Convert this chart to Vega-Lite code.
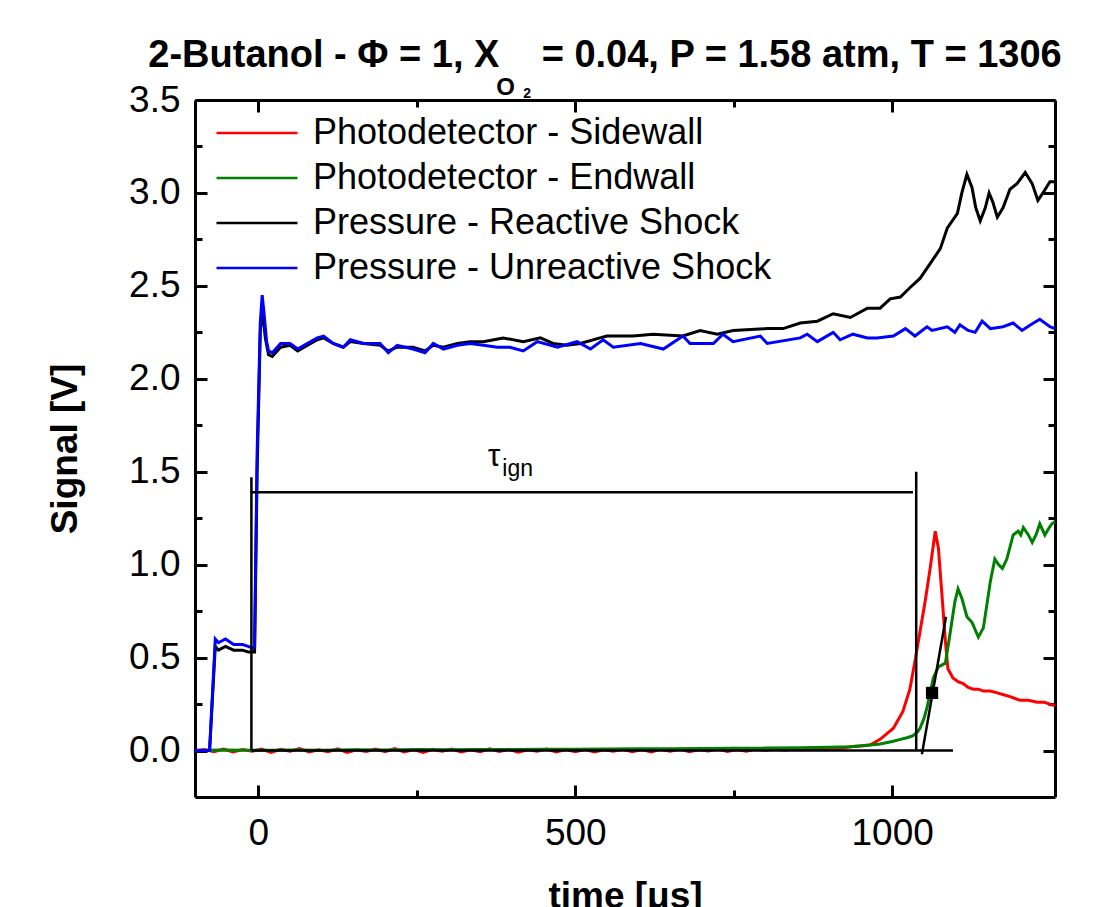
{
  "$schema": "https://vega.github.io/schema/vega-lite/v6.json",
  "width": 860,
  "height": 697,
  "autosize": {"type": "none"},
  "padding": {"left": 195, "top": 100, "right": 53, "bottom": 110},
  "background": "white",
  "title": {
    "text": "2-Butanol - Φ = 1, X\u00a0\u00a0\u00a0 = 0.04, P = 1.58 atm, T = 1306",
    "font": "Liberation Sans",
    "fontWeight": "bold",
    "fontSize": 38,
    "color": "black",
    "anchor": "middle",
    "frame": "group",
    "dx": -20,
    "dy": 37,
    "baseline": "alphabetic",
    "offset": 8
  },
  "config": {
    "font": "Liberation Sans",
    "view": {"stroke": null},
    "axis": {
      "domainColor": "black",
      "domainWidth": 3,
      "tickColor": "black",
      "tickWidth": 3,
      "labelFont": "Liberation Sans",
      "labelFontSize": 37,
      "labelColor": "black",
      "titleFont": "Liberation Sans",
      "titleFontSize": 37,
      "titleFontWeight": "bold",
      "titleColor": "black",
      "grid": false,
      "labelFlush": false,
      "labelOverlap": false
    }
  },
  "datasets": {
    "signals": [
      {"s": "Photodetector - Sidewall", "t": -100, "v": 0.0},
      {"s": "Photodetector - Sidewall", "t": -85, "v": 0.006},
      {"s": "Photodetector - Sidewall", "t": -70, "v": -0.006},
      {"s": "Photodetector - Sidewall", "t": -55, "v": 0.008},
      {"s": "Photodetector - Sidewall", "t": -40, "v": -0.008},
      {"s": "Photodetector - Sidewall", "t": -25, "v": 0.005},
      {"s": "Photodetector - Sidewall", "t": -10, "v": -0.004},
      {"s": "Photodetector - Sidewall", "t": 5, "v": 0.008},
      {"s": "Photodetector - Sidewall", "t": 20, "v": -0.01},
      {"s": "Photodetector - Sidewall", "t": 35, "v": 0.006},
      {"s": "Photodetector - Sidewall", "t": 50, "v": -0.004},
      {"s": "Photodetector - Sidewall", "t": 65, "v": 0.01},
      {"s": "Photodetector - Sidewall", "t": 80, "v": -0.008},
      {"s": "Photodetector - Sidewall", "t": 95, "v": 0.004},
      {"s": "Photodetector - Sidewall", "t": 110, "v": -0.006},
      {"s": "Photodetector - Sidewall", "t": 125, "v": 0.009},
      {"s": "Photodetector - Sidewall", "t": 140, "v": -0.01},
      {"s": "Photodetector - Sidewall", "t": 155, "v": 0.004},
      {"s": "Photodetector - Sidewall", "t": 170, "v": -0.005},
      {"s": "Photodetector - Sidewall", "t": 185, "v": 0.008},
      {"s": "Photodetector - Sidewall", "t": 200, "v": -0.006},
      {"s": "Photodetector - Sidewall", "t": 215, "v": 0.01},
      {"s": "Photodetector - Sidewall", "t": 230, "v": -0.008},
      {"s": "Photodetector - Sidewall", "t": 245, "v": 0.005},
      {"s": "Photodetector - Sidewall", "t": 260, "v": -0.01},
      {"s": "Photodetector - Sidewall", "t": 275, "v": 0.006},
      {"s": "Photodetector - Sidewall", "t": 290, "v": -0.004},
      {"s": "Photodetector - Sidewall", "t": 305, "v": 0.008},
      {"s": "Photodetector - Sidewall", "t": 320, "v": -0.008},
      {"s": "Photodetector - Sidewall", "t": 335, "v": 0.004},
      {"s": "Photodetector - Sidewall", "t": 350, "v": -0.006},
      {"s": "Photodetector - Sidewall", "t": 365, "v": 0.009},
      {"s": "Photodetector - Sidewall", "t": 380, "v": -0.005},
      {"s": "Photodetector - Sidewall", "t": 395, "v": 0.006},
      {"s": "Photodetector - Sidewall", "t": 410, "v": -0.009},
      {"s": "Photodetector - Sidewall", "t": 425, "v": 0.004},
      {"s": "Photodetector - Sidewall", "t": 440, "v": -0.004},
      {"s": "Photodetector - Sidewall", "t": 455, "v": 0.008},
      {"s": "Photodetector - Sidewall", "t": 470, "v": -0.007},
      {"s": "Photodetector - Sidewall", "t": 485, "v": 0.005},
      {"s": "Photodetector - Sidewall", "t": 500, "v": -0.006},
      {"s": "Photodetector - Sidewall", "t": 515, "v": 0.006},
      {"s": "Photodetector - Sidewall", "t": 530, "v": -0.008},
      {"s": "Photodetector - Sidewall", "t": 545, "v": 0.004},
      {"s": "Photodetector - Sidewall", "t": 560, "v": -0.004},
      {"s": "Photodetector - Sidewall", "t": 575, "v": 0.007},
      {"s": "Photodetector - Sidewall", "t": 590, "v": -0.006},
      {"s": "Photodetector - Sidewall", "t": 605, "v": 0.005},
      {"s": "Photodetector - Sidewall", "t": 620, "v": -0.007},
      {"s": "Photodetector - Sidewall", "t": 635, "v": 0.006},
      {"s": "Photodetector - Sidewall", "t": 650, "v": -0.004},
      {"s": "Photodetector - Sidewall", "t": 665, "v": 0.008},
      {"s": "Photodetector - Sidewall", "t": 680, "v": -0.006},
      {"s": "Photodetector - Sidewall", "t": 695, "v": 0.004},
      {"s": "Photodetector - Sidewall", "t": 710, "v": -0.003},
      {"s": "Photodetector - Sidewall", "t": 725, "v": 0.008},
      {"s": "Photodetector - Sidewall", "t": 740, "v": -0.005},
      {"s": "Photodetector - Sidewall", "t": 755, "v": 0.006},
      {"s": "Photodetector - Sidewall", "t": 770, "v": -0.004},
      {"s": "Photodetector - Sidewall", "t": 785, "v": 0.008},
      {"s": "Photodetector - Sidewall", "t": 800, "v": 0.0},
      {"s": "Photodetector - Sidewall", "t": 815, "v": 0.009},
      {"s": "Photodetector - Sidewall", "t": 830, "v": 0.002},
      {"s": "Photodetector - Sidewall", "t": 845, "v": 0.01},
      {"s": "Photodetector - Sidewall", "t": 860, "v": 0.004},
      {"s": "Photodetector - Sidewall", "t": 875, "v": 0.012},
      {"s": "Photodetector - Sidewall", "t": 890, "v": 0.008},
      {"s": "Photodetector - Sidewall", "t": 905, "v": 0.014},
      {"s": "Photodetector - Sidewall", "t": 920, "v": 0.012},
      {"s": "Photodetector - Sidewall", "t": 934, "v": 0.02},
      {"s": "Photodetector - Sidewall", "t": 950, "v": 0.024},
      {"s": "Photodetector - Sidewall", "t": 965, "v": 0.03},
      {"s": "Photodetector - Sidewall", "t": 981, "v": 0.06},
      {"s": "Photodetector - Sidewall", "t": 1002, "v": 0.12},
      {"s": "Photodetector - Sidewall", "t": 1017, "v": 0.21},
      {"s": "Photodetector - Sidewall", "t": 1028, "v": 0.33},
      {"s": "Photodetector - Sidewall", "t": 1036, "v": 0.48},
      {"s": "Photodetector - Sidewall", "t": 1044, "v": 0.64},
      {"s": "Photodetector - Sidewall", "t": 1052, "v": 0.8},
      {"s": "Photodetector - Sidewall", "t": 1060, "v": 0.98},
      {"s": "Photodetector - Sidewall", "t": 1068, "v": 1.18},
      {"s": "Photodetector - Sidewall", "t": 1073, "v": 1.09},
      {"s": "Photodetector - Sidewall", "t": 1079, "v": 0.82},
      {"s": "Photodetector - Sidewall", "t": 1084, "v": 0.59},
      {"s": "Photodetector - Sidewall", "t": 1088, "v": 0.44},
      {"s": "Photodetector - Sidewall", "t": 1096, "v": 0.39},
      {"s": "Photodetector - Sidewall", "t": 1104, "v": 0.37},
      {"s": "Photodetector - Sidewall", "t": 1112, "v": 0.36},
      {"s": "Photodetector - Sidewall", "t": 1120, "v": 0.34},
      {"s": "Photodetector - Sidewall", "t": 1128, "v": 0.33},
      {"s": "Photodetector - Sidewall", "t": 1136, "v": 0.33},
      {"s": "Photodetector - Sidewall", "t": 1144, "v": 0.32},
      {"s": "Photodetector - Sidewall", "t": 1155, "v": 0.32},
      {"s": "Photodetector - Sidewall", "t": 1166, "v": 0.31},
      {"s": "Photodetector - Sidewall", "t": 1176, "v": 0.3},
      {"s": "Photodetector - Sidewall", "t": 1186, "v": 0.29},
      {"s": "Photodetector - Sidewall", "t": 1194, "v": 0.28},
      {"s": "Photodetector - Sidewall", "t": 1202, "v": 0.27},
      {"s": "Photodetector - Sidewall", "t": 1215, "v": 0.27},
      {"s": "Photodetector - Sidewall", "t": 1229, "v": 0.26},
      {"s": "Photodetector - Sidewall", "t": 1240, "v": 0.26},
      {"s": "Photodetector - Sidewall", "t": 1249, "v": 0.25},
      {"s": "Photodetector - Sidewall", "t": 1257, "v": 0.24},

      {"s": "Photodetector - Endwall", "t": -100, "v": 0.0},
      {"s": "Photodetector - Endwall", "t": -60, "v": 0.003},
      {"s": "Photodetector - Endwall", "t": -20, "v": 0.002},
      {"s": "Photodetector - Endwall", "t": 20, "v": 0.001},
      {"s": "Photodetector - Endwall", "t": 60, "v": 0.003},
      {"s": "Photodetector - Endwall", "t": 100, "v": 0.002},
      {"s": "Photodetector - Endwall", "t": 150, "v": 0.004},
      {"s": "Photodetector - Endwall", "t": 200, "v": 0.003},
      {"s": "Photodetector - Endwall", "t": 250, "v": 0.005},
      {"s": "Photodetector - Endwall", "t": 300, "v": 0.004},
      {"s": "Photodetector - Endwall", "t": 350, "v": 0.006},
      {"s": "Photodetector - Endwall", "t": 400, "v": 0.005},
      {"s": "Photodetector - Endwall", "t": 450, "v": 0.007},
      {"s": "Photodetector - Endwall", "t": 500, "v": 0.007},
      {"s": "Photodetector - Endwall", "t": 550, "v": 0.008},
      {"s": "Photodetector - Endwall", "t": 600, "v": 0.009},
      {"s": "Photodetector - Endwall", "t": 650, "v": 0.01},
      {"s": "Photodetector - Endwall", "t": 700, "v": 0.011},
      {"s": "Photodetector - Endwall", "t": 750, "v": 0.012},
      {"s": "Photodetector - Endwall", "t": 800, "v": 0.013},
      {"s": "Photodetector - Endwall", "t": 855, "v": 0.015},
      {"s": "Photodetector - Endwall", "t": 900, "v": 0.017},
      {"s": "Photodetector - Endwall", "t": 934, "v": 0.02},
      {"s": "Photodetector - Endwall", "t": 961, "v": 0.028},
      {"s": "Photodetector - Endwall", "t": 981, "v": 0.035},
      {"s": "Photodetector - Endwall", "t": 1002, "v": 0.05},
      {"s": "Photodetector - Endwall", "t": 1013, "v": 0.06},
      {"s": "Photodetector - Endwall", "t": 1025, "v": 0.07},
      {"s": "Photodetector - Endwall", "t": 1033, "v": 0.08},
      {"s": "Photodetector - Endwall", "t": 1040, "v": 0.1},
      {"s": "Photodetector - Endwall", "t": 1044, "v": 0.12},
      {"s": "Photodetector - Endwall", "t": 1050, "v": 0.17},
      {"s": "Photodetector - Endwall", "t": 1055, "v": 0.23},
      {"s": "Photodetector - Endwall", "t": 1060, "v": 0.31},
      {"s": "Photodetector - Endwall", "t": 1065, "v": 0.39},
      {"s": "Photodetector - Endwall", "t": 1073, "v": 0.45},
      {"s": "Photodetector - Endwall", "t": 1084, "v": 0.47},
      {"s": "Photodetector - Endwall", "t": 1091, "v": 0.62},
      {"s": "Photodetector - Endwall", "t": 1099, "v": 0.8},
      {"s": "Photodetector - Endwall", "t": 1104, "v": 0.87},
      {"s": "Photodetector - Endwall", "t": 1110, "v": 0.82},
      {"s": "Photodetector - Endwall", "t": 1118, "v": 0.72},
      {"s": "Photodetector - Endwall", "t": 1126, "v": 0.69},
      {"s": "Photodetector - Endwall", "t": 1136, "v": 0.61},
      {"s": "Photodetector - Endwall", "t": 1144, "v": 0.66},
      {"s": "Photodetector - Endwall", "t": 1155, "v": 0.91},
      {"s": "Photodetector - Endwall", "t": 1162, "v": 1.03},
      {"s": "Photodetector - Endwall", "t": 1168, "v": 1.0},
      {"s": "Photodetector - Endwall", "t": 1174, "v": 0.98},
      {"s": "Photodetector - Endwall", "t": 1181, "v": 1.03},
      {"s": "Photodetector - Endwall", "t": 1191, "v": 1.16},
      {"s": "Photodetector - Endwall", "t": 1199, "v": 1.18},
      {"s": "Photodetector - Endwall", "t": 1203, "v": 1.16},
      {"s": "Photodetector - Endwall", "t": 1207, "v": 1.2},
      {"s": "Photodetector - Endwall", "t": 1215, "v": 1.16},
      {"s": "Photodetector - Endwall", "t": 1221, "v": 1.12},
      {"s": "Photodetector - Endwall", "t": 1227, "v": 1.16},
      {"s": "Photodetector - Endwall", "t": 1233, "v": 1.22},
      {"s": "Photodetector - Endwall", "t": 1241, "v": 1.16},
      {"s": "Photodetector - Endwall", "t": 1248, "v": 1.2},
      {"s": "Photodetector - Endwall", "t": 1252, "v": 1.22},
      {"s": "Photodetector - Endwall", "t": 1257, "v": 1.23},

      {"s": "Pressure - Reactive Shock", "t": -100, "v": 0.0},
      {"s": "Pressure - Reactive Shock", "t": -77, "v": 0.0},
      {"s": "Pressure - Reactive Shock", "t": -68, "v": 0.56},
      {"s": "Pressure - Reactive Shock", "t": -63, "v": 0.54},
      {"s": "Pressure - Reactive Shock", "t": -52, "v": 0.56},
      {"s": "Pressure - Reactive Shock", "t": -39, "v": 0.54},
      {"s": "Pressure - Reactive Shock", "t": -25, "v": 0.54},
      {"s": "Pressure - Reactive Shock", "t": -16, "v": 0.53},
      {"s": "Pressure - Reactive Shock", "t": -9, "v": 0.53},
      {"s": "Pressure - Reactive Shock", "t": -6, "v": 0.53},
      {"s": "Pressure - Reactive Shock", "t": -2, "v": 1.5},
      {"s": "Pressure - Reactive Shock", "t": 3, "v": 2.25},
      {"s": "Pressure - Reactive Shock", "t": 6, "v": 2.38},
      {"s": "Pressure - Reactive Shock", "t": 11, "v": 2.22},
      {"s": "Pressure - Reactive Shock", "t": 16, "v": 2.13},
      {"s": "Pressure - Reactive Shock", "t": 22, "v": 2.12},
      {"s": "Pressure - Reactive Shock", "t": 35, "v": 2.17},
      {"s": "Pressure - Reactive Shock", "t": 50, "v": 2.18},
      {"s": "Pressure - Reactive Shock", "t": 62, "v": 2.15},
      {"s": "Pressure - Reactive Shock", "t": 77, "v": 2.18},
      {"s": "Pressure - Reactive Shock", "t": 93, "v": 2.21},
      {"s": "Pressure - Reactive Shock", "t": 103, "v": 2.22},
      {"s": "Pressure - Reactive Shock", "t": 118, "v": 2.19},
      {"s": "Pressure - Reactive Shock", "t": 134, "v": 2.17},
      {"s": "Pressure - Reactive Shock", "t": 145, "v": 2.2},
      {"s": "Pressure - Reactive Shock", "t": 166, "v": 2.19},
      {"s": "Pressure - Reactive Shock", "t": 192, "v": 2.18},
      {"s": "Pressure - Reactive Shock", "t": 205, "v": 2.15},
      {"s": "Pressure - Reactive Shock", "t": 219, "v": 2.17},
      {"s": "Pressure - Reactive Shock", "t": 244, "v": 2.17},
      {"s": "Pressure - Reactive Shock", "t": 263, "v": 2.15},
      {"s": "Pressure - Reactive Shock", "t": 276, "v": 2.18},
      {"s": "Pressure - Reactive Shock", "t": 292, "v": 2.17},
      {"s": "Pressure - Reactive Shock", "t": 314, "v": 2.19},
      {"s": "Pressure - Reactive Shock", "t": 334, "v": 2.2},
      {"s": "Pressure - Reactive Shock", "t": 355, "v": 2.2},
      {"s": "Pressure - Reactive Shock", "t": 386, "v": 2.22},
      {"s": "Pressure - Reactive Shock", "t": 418, "v": 2.2},
      {"s": "Pressure - Reactive Shock", "t": 445, "v": 2.22},
      {"s": "Pressure - Reactive Shock", "t": 465, "v": 2.19},
      {"s": "Pressure - Reactive Shock", "t": 487, "v": 2.18},
      {"s": "Pressure - Reactive Shock", "t": 508, "v": 2.19},
      {"s": "Pressure - Reactive Shock", "t": 539, "v": 2.22},
      {"s": "Pressure - Reactive Shock", "t": 550, "v": 2.23},
      {"s": "Pressure - Reactive Shock", "t": 591, "v": 2.23},
      {"s": "Pressure - Reactive Shock", "t": 623, "v": 2.24},
      {"s": "Pressure - Reactive Shock", "t": 670, "v": 2.23},
      {"s": "Pressure - Reactive Shock", "t": 697, "v": 2.26},
      {"s": "Pressure - Reactive Shock", "t": 724, "v": 2.24},
      {"s": "Pressure - Reactive Shock", "t": 749, "v": 2.26},
      {"s": "Pressure - Reactive Shock", "t": 803, "v": 2.27},
      {"s": "Pressure - Reactive Shock", "t": 828, "v": 2.27},
      {"s": "Pressure - Reactive Shock", "t": 855, "v": 2.3},
      {"s": "Pressure - Reactive Shock", "t": 882, "v": 2.31},
      {"s": "Pressure - Reactive Shock", "t": 907, "v": 2.35},
      {"s": "Pressure - Reactive Shock", "t": 934, "v": 2.33},
      {"s": "Pressure - Reactive Shock", "t": 961, "v": 2.38},
      {"s": "Pressure - Reactive Shock", "t": 981, "v": 2.38},
      {"s": "Pressure - Reactive Shock", "t": 997, "v": 2.43},
      {"s": "Pressure - Reactive Shock", "t": 1013, "v": 2.44},
      {"s": "Pressure - Reactive Shock", "t": 1028, "v": 2.49},
      {"s": "Pressure - Reactive Shock", "t": 1044, "v": 2.54},
      {"s": "Pressure - Reactive Shock", "t": 1060, "v": 2.62},
      {"s": "Pressure - Reactive Shock", "t": 1076, "v": 2.7},
      {"s": "Pressure - Reactive Shock", "t": 1087, "v": 2.81},
      {"s": "Pressure - Reactive Shock", "t": 1103, "v": 2.89},
      {"s": "Pressure - Reactive Shock", "t": 1110, "v": 3.0},
      {"s": "Pressure - Reactive Shock", "t": 1118, "v": 3.1},
      {"s": "Pressure - Reactive Shock", "t": 1126, "v": 3.03},
      {"s": "Pressure - Reactive Shock", "t": 1132, "v": 2.92},
      {"s": "Pressure - Reactive Shock", "t": 1139, "v": 2.85},
      {"s": "Pressure - Reactive Shock", "t": 1147, "v": 2.92},
      {"s": "Pressure - Reactive Shock", "t": 1153, "v": 3.0},
      {"s": "Pressure - Reactive Shock", "t": 1159, "v": 2.95},
      {"s": "Pressure - Reactive Shock", "t": 1166, "v": 2.87},
      {"s": "Pressure - Reactive Shock", "t": 1175, "v": 2.92},
      {"s": "Pressure - Reactive Shock", "t": 1186, "v": 3.02},
      {"s": "Pressure - Reactive Shock", "t": 1197, "v": 3.05},
      {"s": "Pressure - Reactive Shock", "t": 1210, "v": 3.11},
      {"s": "Pressure - Reactive Shock", "t": 1221, "v": 3.05},
      {"s": "Pressure - Reactive Shock", "t": 1230, "v": 2.96},
      {"s": "Pressure - Reactive Shock", "t": 1238, "v": 3.0},
      {"s": "Pressure - Reactive Shock", "t": 1249, "v": 3.06},
      {"s": "Pressure - Reactive Shock", "t": 1257, "v": 3.06},

      {"s": "Pressure - Unreactive Shock", "t": -100, "v": 0.0},
      {"s": "Pressure - Unreactive Shock", "t": -77, "v": 0.0},
      {"s": "Pressure - Unreactive Shock", "t": -68, "v": 0.6},
      {"s": "Pressure - Unreactive Shock", "t": -63, "v": 0.58},
      {"s": "Pressure - Unreactive Shock", "t": -52, "v": 0.6},
      {"s": "Pressure - Unreactive Shock", "t": -39, "v": 0.57},
      {"s": "Pressure - Unreactive Shock", "t": -25, "v": 0.57},
      {"s": "Pressure - Unreactive Shock", "t": -16, "v": 0.56},
      {"s": "Pressure - Unreactive Shock", "t": -9, "v": 0.55},
      {"s": "Pressure - Unreactive Shock", "t": -6, "v": 0.56},
      {"s": "Pressure - Unreactive Shock", "t": -2, "v": 1.6},
      {"s": "Pressure - Unreactive Shock", "t": 3, "v": 2.3},
      {"s": "Pressure - Unreactive Shock", "t": 6, "v": 2.45},
      {"s": "Pressure - Unreactive Shock", "t": 9, "v": 2.35},
      {"s": "Pressure - Unreactive Shock", "t": 13, "v": 2.2},
      {"s": "Pressure - Unreactive Shock", "t": 16, "v": 2.15},
      {"s": "Pressure - Unreactive Shock", "t": 22, "v": 2.14},
      {"s": "Pressure - Unreactive Shock", "t": 35, "v": 2.19},
      {"s": "Pressure - Unreactive Shock", "t": 50, "v": 2.19},
      {"s": "Pressure - Unreactive Shock", "t": 62, "v": 2.16},
      {"s": "Pressure - Unreactive Shock", "t": 77, "v": 2.19},
      {"s": "Pressure - Unreactive Shock", "t": 93, "v": 2.22},
      {"s": "Pressure - Unreactive Shock", "t": 103, "v": 2.23},
      {"s": "Pressure - Unreactive Shock", "t": 118, "v": 2.19},
      {"s": "Pressure - Unreactive Shock", "t": 134, "v": 2.17},
      {"s": "Pressure - Unreactive Shock", "t": 145, "v": 2.21},
      {"s": "Pressure - Unreactive Shock", "t": 166, "v": 2.19},
      {"s": "Pressure - Unreactive Shock", "t": 192, "v": 2.19},
      {"s": "Pressure - Unreactive Shock", "t": 205, "v": 2.14},
      {"s": "Pressure - Unreactive Shock", "t": 219, "v": 2.18},
      {"s": "Pressure - Unreactive Shock", "t": 244, "v": 2.16},
      {"s": "Pressure - Unreactive Shock", "t": 263, "v": 2.14},
      {"s": "Pressure - Unreactive Shock", "t": 276, "v": 2.19},
      {"s": "Pressure - Unreactive Shock", "t": 292, "v": 2.16},
      {"s": "Pressure - Unreactive Shock", "t": 314, "v": 2.18},
      {"s": "Pressure - Unreactive Shock", "t": 334, "v": 2.19},
      {"s": "Pressure - Unreactive Shock", "t": 355, "v": 2.18},
      {"s": "Pressure - Unreactive Shock", "t": 377, "v": 2.17},
      {"s": "Pressure - Unreactive Shock", "t": 397, "v": 2.17},
      {"s": "Pressure - Unreactive Shock", "t": 418, "v": 2.15},
      {"s": "Pressure - Unreactive Shock", "t": 440, "v": 2.2},
      {"s": "Pressure - Unreactive Shock", "t": 472, "v": 2.17},
      {"s": "Pressure - Unreactive Shock", "t": 503, "v": 2.2},
      {"s": "Pressure - Unreactive Shock", "t": 524, "v": 2.16},
      {"s": "Pressure - Unreactive Shock", "t": 544, "v": 2.21},
      {"s": "Pressure - Unreactive Shock", "t": 560, "v": 2.17},
      {"s": "Pressure - Unreactive Shock", "t": 603, "v": 2.19},
      {"s": "Pressure - Unreactive Shock", "t": 639, "v": 2.16},
      {"s": "Pressure - Unreactive Shock", "t": 670, "v": 2.23},
      {"s": "Pressure - Unreactive Shock", "t": 681, "v": 2.19},
      {"s": "Pressure - Unreactive Shock", "t": 718, "v": 2.19},
      {"s": "Pressure - Unreactive Shock", "t": 733, "v": 2.24},
      {"s": "Pressure - Unreactive Shock", "t": 749, "v": 2.2},
      {"s": "Pressure - Unreactive Shock", "t": 792, "v": 2.23},
      {"s": "Pressure - Unreactive Shock", "t": 803, "v": 2.19},
      {"s": "Pressure - Unreactive Shock", "t": 855, "v": 2.22},
      {"s": "Pressure - Unreactive Shock", "t": 866, "v": 2.24},
      {"s": "Pressure - Unreactive Shock", "t": 882, "v": 2.2},
      {"s": "Pressure - Unreactive Shock", "t": 907, "v": 2.25},
      {"s": "Pressure - Unreactive Shock", "t": 918, "v": 2.21},
      {"s": "Pressure - Unreactive Shock", "t": 938, "v": 2.24},
      {"s": "Pressure - Unreactive Shock", "t": 961, "v": 2.22},
      {"s": "Pressure - Unreactive Shock", "t": 976, "v": 2.22},
      {"s": "Pressure - Unreactive Shock", "t": 1002, "v": 2.23},
      {"s": "Pressure - Unreactive Shock", "t": 1021, "v": 2.27},
      {"s": "Pressure - Unreactive Shock", "t": 1036, "v": 2.23},
      {"s": "Pressure - Unreactive Shock", "t": 1055, "v": 2.28},
      {"s": "Pressure - Unreactive Shock", "t": 1063, "v": 2.26},
      {"s": "Pressure - Unreactive Shock", "t": 1087, "v": 2.28},
      {"s": "Pressure - Unreactive Shock", "t": 1099, "v": 2.25},
      {"s": "Pressure - Unreactive Shock", "t": 1107, "v": 2.29},
      {"s": "Pressure - Unreactive Shock", "t": 1120, "v": 2.26},
      {"s": "Pressure - Unreactive Shock", "t": 1131, "v": 2.25},
      {"s": "Pressure - Unreactive Shock", "t": 1142, "v": 2.31},
      {"s": "Pressure - Unreactive Shock", "t": 1155, "v": 2.27},
      {"s": "Pressure - Unreactive Shock", "t": 1175, "v": 2.28},
      {"s": "Pressure - Unreactive Shock", "t": 1191, "v": 2.3},
      {"s": "Pressure - Unreactive Shock", "t": 1205, "v": 2.26},
      {"s": "Pressure - Unreactive Shock", "t": 1218, "v": 2.29},
      {"s": "Pressure - Unreactive Shock", "t": 1233, "v": 2.32},
      {"s": "Pressure - Unreactive Shock", "t": 1249, "v": 2.28},
      {"s": "Pressure - Unreactive Shock", "t": 1257, "v": 2.27}
    ],
    "guides": [
      {"t": -11, "t2": -11, "v": 0, "v2": 1.47},
      {"t": -11, "t2": 1033, "v": 1.39, "v2": 1.39},
      {"t": 1038, "t2": 1038, "v": 0, "v2": 1.5},
      {"t": -11, "t2": 1096, "v": 0, "v2": 0},
      {"t": 1047, "t2": 1085, "v": -0.02, "v2": 0.72}
    ],
    "marker": [{"t": 1063, "v": 0.31}],
    "tau": [{"label": "τ", "t": 372, "v": 1.53}],
    "tausub": [{"label": "ign", "t": 385, "v": 1.476}],
    "sub1": [{"label": "O", "t": 390, "v": 3.525}],
    "sub2": [{"label": "2", "t": 424, "v": 3.513}]
  },
  "layer": [
    {
      "data": {"name": "signals"},
      "mark": {"type": "line", "strokeWidth": 3, "interpolate": "linear"},
      "encoding": {
        "x": {
          "field": "t", "type": "quantitative",
          "scale": {"domain": [-100, 1257], "nice": false, "zero": false},
          "axis": {
            "orient": "bottom",
            "values": [0, 250, 500, 750, 1000],
            "format": "d",
            "labelExpr": "datum.value % 500 === 0 ? datum.label : ''",
            "tickSize": {"condition": {"test": "datum.value % 500 === 0", "value": -12}, "value": -7},
            "labelPadding": 30,
            "title": "time [μs]",
            "titlePadding": 22
          }
        },
        "y": {
          "field": "v", "type": "quantitative",
          "scale": {"domain": [-0.25, 3.5], "nice": false, "zero": false},
          "axis": {
            "orient": "left",
            "values": [0, 0.25, 0.5, 0.75, 1, 1.25, 1.5, 1.75, 2, 2.25, 2.5, 2.75, 3, 3.25, 3.5],
            "format": ".1f",
            "labelExpr": "abs(datum.value*2 - round(datum.value*2)) < 0.01 ? datum.label : ''",
            "tickSize": {"condition": {"test": "abs(datum.value*2 - round(datum.value*2)) < 0.01", "value": -12}, "value": -7},
            "labelPadding": 27,
            "title": "Signal [V]",
            "titlePadding": 44
          }
        },
        "color": {
          "field": "s", "type": "nominal",
          "scale": {
            "domain": ["Photodetector - Sidewall", "Photodetector - Endwall", "Pressure - Reactive Shock", "Pressure - Unreactive Shock"],
            "range": ["#ff0000", "#008000", "#000000", "#0000ff"]
          },
          "legend": {
            "orient": "none", "legendX": 20, "legendY": 13, "title": null,
            "symbolType": "stroke", "symbolSize": 6561, "symbolStrokeWidth": 2.5,
            "clipHeight": 40, "rowPadding": 5,
            "labelFont": "Liberation Sans", "labelFontSize": 36, "labelColor": "black",
            "labelOffset": 14, "labelLimit": 0, "padding": 0
          }
        }
      }
    },
    {
      "data": {"name": "guides"},
      "mark": {"type": "rule", "color": "black", "strokeWidth": 2.5},
      "encoding": {
        "x": {
          "field": "t", "type": "quantitative",
          "scale": {"domain": [-100, 1257], "nice": false, "zero": false},
          "axis": {
            "orient": "top",
            "values": [0, 250, 500, 750, 1000],
            "labels": false,
            "tickSize": {"condition": {"test": "datum.value % 500 === 0", "value": -12}, "value": -7},
            "title": null
          }
        },
        "x2": {"field": "t2"},
        "y": {
          "field": "v", "type": "quantitative",
          "scale": {"domain": [-0.25, 3.5], "nice": false, "zero": false},
          "axis": {
            "orient": "right",
            "values": [0, 0.25, 0.5, 0.75, 1, 1.25, 1.5, 1.75, 2, 2.25, 2.5, 2.75, 3, 3.25, 3.5],
            "labels": false,
            "tickSize": {"condition": {"test": "abs(datum.value*2 - round(datum.value*2)) < 0.01", "value": -12}, "value": -7},
            "title": null
          }
        },
        "y2": {"field": "v2"}
      }
    },
    {
      "data": {"name": "marker"},
      "mark": {"type": "point", "shape": "square", "filled": true, "color": "black", "size": 150, "opacity": 1},
      "encoding": {
        "x": {"field": "t", "type": "quantitative", "scale": {"domain": [-100, 1257], "nice": false, "zero": false}, "axis": null},
        "y": {"field": "v", "type": "quantitative", "scale": {"domain": [-0.25, 3.5], "nice": false, "zero": false}, "axis": null}
      }
    },
    {
      "data": {"name": "tau"},
      "mark": {"type": "text", "font": "Liberation Sans", "fontSize": 32, "color": "black", "align": "center", "baseline": "alphabetic"},
      "encoding": {
        "x": {"field": "t", "type": "quantitative", "scale": {"domain": [-100, 1257], "nice": false, "zero": false}, "axis": null},
        "y": {"field": "v", "type": "quantitative", "scale": {"domain": [-0.25, 3.5], "nice": false, "zero": false}, "axis": null},
        "text": {"field": "label"}
      }
    },
    {
      "data": {"name": "tausub"},
      "mark": {"type": "text", "font": "Liberation Sans", "fontSize": 23, "color": "black", "align": "left", "baseline": "alphabetic"},
      "encoding": {
        "x": {"field": "t", "type": "quantitative", "scale": {"domain": [-100, 1257], "nice": false, "zero": false}, "axis": null},
        "y": {"field": "v", "type": "quantitative", "scale": {"domain": [-0.25, 3.5], "nice": false, "zero": false}, "axis": null},
        "text": {"field": "label"}
      }
    },
    {
      "data": {"name": "sub1"},
      "mark": {"type": "text", "font": "Liberation Sans", "fontWeight": "bold", "fontSize": 24, "color": "black", "align": "center", "baseline": "alphabetic"},
      "encoding": {
        "x": {"field": "t", "type": "quantitative", "scale": {"domain": [-100, 1257], "nice": false, "zero": false}, "axis": null},
        "y": {"field": "v", "type": "quantitative", "scale": {"domain": [-0.25, 3.5], "nice": false, "zero": false}, "axis": null},
        "text": {"field": "label"}
      }
    },
    {
      "data": {"name": "sub2"},
      "mark": {"type": "text", "font": "Liberation Sans", "fontWeight": "bold", "fontSize": 14, "color": "black", "align": "center", "baseline": "alphabetic"},
      "encoding": {
        "x": {"field": "t", "type": "quantitative", "scale": {"domain": [-100, 1257], "nice": false, "zero": false}, "axis": null},
        "y": {"field": "v", "type": "quantitative", "scale": {"domain": [-0.25, 3.5], "nice": false, "zero": false}, "axis": null},
        "text": {"field": "label"}
      }
    }
  ],
  "resolve": {"axis": {"x": "independent", "y": "independent"}}
}
